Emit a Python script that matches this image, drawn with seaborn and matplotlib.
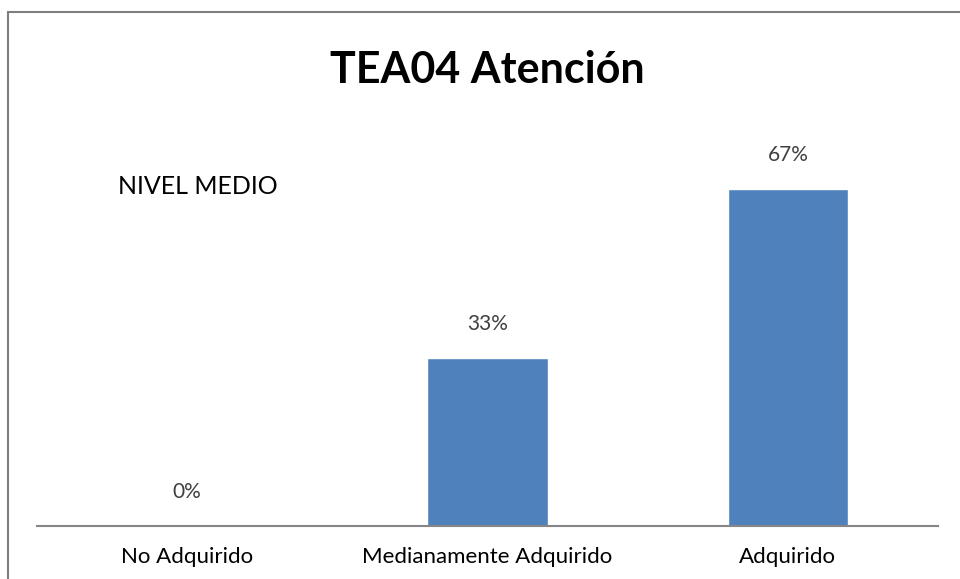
import matplotlib
matplotlib.use("Agg")
import matplotlib.pyplot as plt
import seaborn as sns
import pandas as pd
from matplotlib.patches import Rectangle

# Data
categorias = ["No Adquirido", "Medianamente Adquirido", "Adquirido"]
porcentajes = [0.0, 33.33, 66.67]
etiquetas = ["0%", "33%", "67%"]

sns.set_theme(style="white")
plt.rcParams["font.family"] = ["Lato", "DejaVu Sans"]

df = pd.DataFrame({"categoria": categorias, "porcentaje": porcentajes})

fig = plt.figure(figsize=(9.6, 5.79), dpi=100)
ax = fig.add_axes([37 / 960, (579 - 526) / 579, 901 / 960, 404 / 579])

sns.barplot(data=df, x="categoria", y="porcentaje", color="#4F81BD",
            saturation=1, width=0.4, ax=ax)
ax.set_ylim(0, 80)
ax.set_xlim(-0.5, 2.5)

# value labels above bars
for i, (v, t) in enumerate(zip(porcentajes, etiquetas)):
    ax.annotate(t, (i, v), xytext=(0, 34), textcoords="offset pixels",
                ha="center", va="center", fontsize=15, color="#404040")

ax.set_xlabel("")
ax.set_ylabel("")
ax.set_yticks([])
ax.tick_params(axis="x", length=0, pad=15, labelsize=16, labelcolor="black")
for s in ["left", "right", "top"]:
    ax.spines[s].set_visible(False)
ax.spines["bottom"].set_color("#868686")
ax.spines["bottom"].set_linewidth(1.5)

# title and side note
fig.text(487 / 960, 1 - 70 / 579, "TEA04 Atención", ha="center", va="center",
         fontsize=31, fontweight="bold", color="black")
fig.text(118 / 960, 1 - 186 / 579, "NIVEL MEDIO", ha="left", va="center",
         fontsize=18, color="black")

# chart frame (cut off at right and bottom)
fig.patches.append(Rectangle((7.5 / 960, -0.1), 1.2, 1 - 12 / 579 + 0.1,
                             transform=fig.transFigure, fill=False,
                             edgecolor="#7F7F7F", linewidth=1.5))

fig.savefig("out.png", dpi=100)
